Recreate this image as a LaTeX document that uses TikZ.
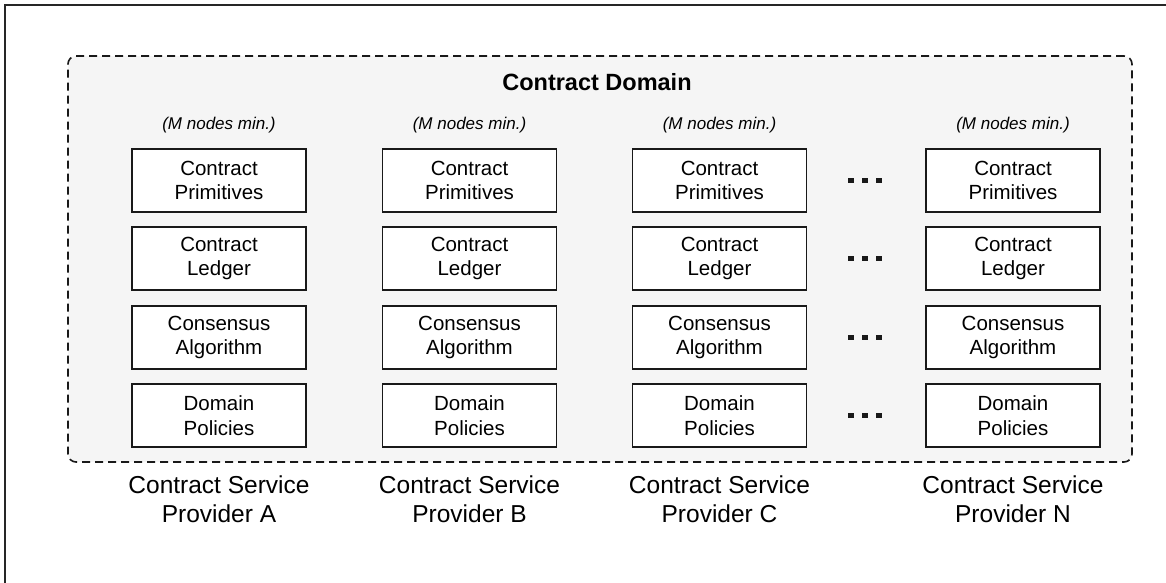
\documentclass[tikz,border=0pt]{standalone}
\usepackage{fontspec}
\setmainfont{Liberation Sans}
\begin{document}
\begin{tikzpicture}[x=1pt,y=-1pt,
  box/.style={draw=black!90, line width=1.6pt, fill=white, minimum width=174pt, minimum height=63pt, inner sep=0pt, align=center, font=\fontsize{20.5}{24.5}\selectfont},
  note/.style={anchor=base, inner sep=0pt, font=\itshape\fontsize{17}{20}\selectfont},
  prov/.style={align=center, inner sep=0pt, font=\fontsize{24.5}{29}\selectfont},
  dotsq/.style={fill=black!90, minimum size=5.5pt, inner sep=0pt},
  domainbox/.style={draw=black!90, line width=1.6pt, dash pattern=on 8pt off 5pt, rounded corners=8pt, fill=black!4, minimum width=1064pt, minimum height=406pt, inner sep=0pt}]
\useasboundingbox (0,0) rectangle (1166,582);
\clip (0,0) rectangle (1166,582);
\draw[line width=2pt, draw=black!85] (5,4.5) rectangle (1180,600);
\node[domainbox] (domain) at (600,259) {};
\node[anchor=base, inner sep=0pt, font=\bfseries\fontsize{23.5}{28}\selectfont] (title) at (597,90) {Contract Domain};
\foreach \c/\x in {A/219, B/469.5, C/719.5, N/1013} {
  \node[note] (note\c) at (\x,129.5) {(M nodes min.)};
  \node[box] (prim\c) at (\x,180.5) {Contract\\Primitives};
  \node[box] (ledg\c) at (\x,258.5) {Contract\\Ledger};
  \node[box] (cons\c) at (\x,337.5) {Consensus\\Algorithm};
  \node[box] (pol\c) at (\x,415.5) {Domain\\Policies};
  \node[prov] (prov\c) at (\x,499) {Contract Service\\Provider \c};
}
\foreach \r/\y in {1/180.5, 2/258.5, 3/337.5, 4/415.5} {
  \node[dotsq] (dotA\r) at (851,\y) {};
  \node[dotsq] (dotB\r) at (865,\y) {};
  \node[dotsq] (dotC\r) at (879,\y) {};
}
\end{tikzpicture}
\end{document}
